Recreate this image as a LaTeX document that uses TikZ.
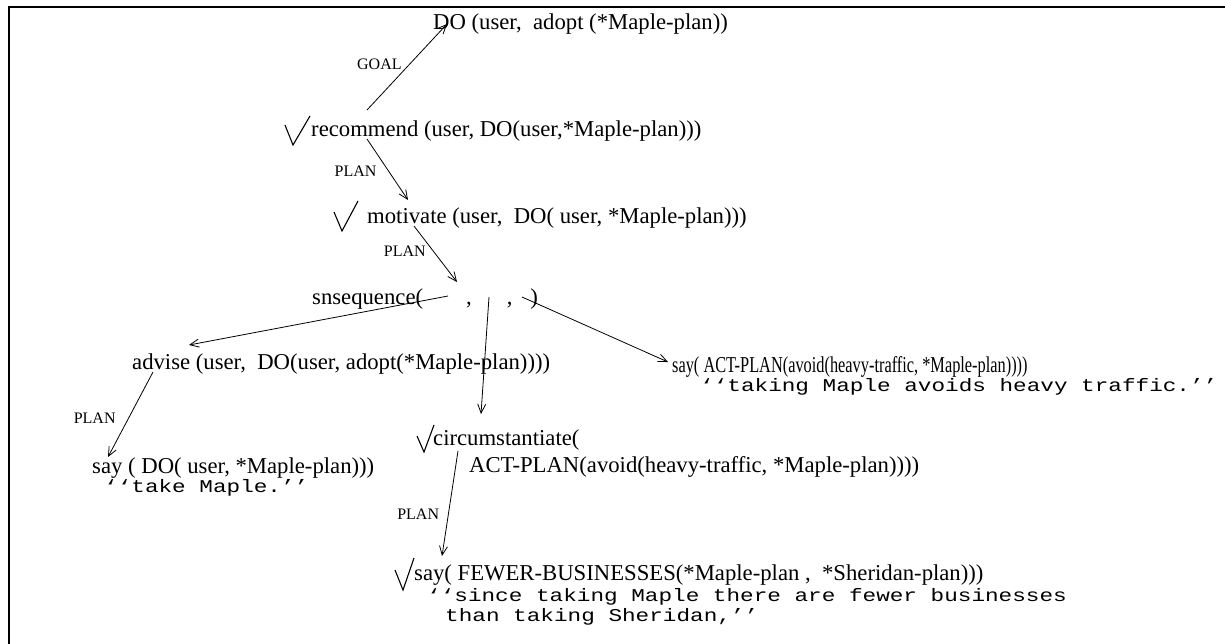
\documentclass[tikz,border=0pt]{standalone}
\usepackage{fontspec}
\setmainfont{Liberation Serif}
\setmonofont[FakeStretch=1.26]{Liberation Mono}
\newfontfamily\condserif[FakeStretch=0.72]{Liberation Serif}
\usetikzlibrary{arrows.meta}

\begin{document}
\begin{tikzpicture}[x=1pt, y=-1pt,
    term/.style = {anchor=base west, inner sep=0pt,
        font=\fontsize{22.7}{27}\selectfont},
    saying/.style = {term, font=\fontsize{18}{22}\selectfont\ttfamily},
    tag/.style = {anchor=base east, inner sep=0pt,
        font=\fontsize{16}{19}\selectfont},
    okmark/.style = {line width=1.1pt, line join=miter},
    link/.style = {line width=0.8pt, -{Straight Barb[length=9pt,width=8pt]}}]

\useasboundingbox (0,0) rectangle (1225,644);

% Frame
\draw[line width=1.5pt] (1225,7) -- (9,7) -- (9,644);

% Goal
\node[term] (do) at (433,30) {DO (user,~~adopt (*Maple-plan))};

% Recommend
\node[term] (rec) at (311,137) {recommend (user, DO(user,*Maple-plan)))};
\draw[okmark] ([shift={(-26,-12)}]rec.base west) -- ++(8,20) -- ++(17,-29);

% Motivate
\node[term] (mot) at (367,224) {motivate (user,~~DO( user, *Maple-plan)))};
\draw[okmark] ([shift={(-33,-12)}]mot.base west) -- ++(8,19) -- ++(16,-30);

% Sequence
\node[term] (seq) at (312,304)
    {snsequence(\hspace{43pt},\hspace{35pt},\hspace{18pt})};

% Advise
\node[term] (adv) at (132,369) {advise (user,~~DO(user, adopt(*Maple-plan))))};
\node[term] (say1) at (92,473) {say ( DO( user, *Maple-plan)))};
\node[saying] (take) at (104,492) {‘‘take Maple.’’};

% Circumstantiate
\node[term] (circ) at (433,445) {circumstantiate(};
\draw[okmark] ([shift={(-16,-9)}]circ.base west) -- ++(7,16) -- ++(10,-27);
\node[term] (act) at (469,472) {ACT-PLAN(avoid(heavy-traffic, *Maple-plan))))};
\node[term] (fewer) at (414,580)
    {say( FEWER-BUSINESSES(*Maple-plan ,~~*Sheridan-plan)))};
\draw[okmark] ([shift={(-19,-10)}]fewer.base west) -- ++(8,20) -- ++(11,-32);
\node[saying] (since) at (427,601) {‘‘since taking Maple there are fewer businesses};
\node[saying] (than) at (445,621) {than taking Sheridan,’’};

% Say act-plan
\node[term, font=\fontsize{22.7}{27}\condserif] (say2) at (672,372)
    {say( ACT-PLAN(avoid(heavy-traffic, *Maple-plan))))};
\node[saying] (avoid) at (700,391) {‘‘taking Maple avoids heavy traffic.’’};

% Links
\draw[link] ([shift={(56,-27)}]rec.base west)
    -- node[tag, pos=.475, xshift=-3pt] {GOAL} ([shift={(14,-6)}]do.base west);
\draw[link] ([shift={(56,2)}]rec.base west)
    -- node[tag, pos=.607, xshift=-15pt] {PLAN} ([shift={(41,-24)}]mot.base west);
\draw[link] ([shift={(47,2)}]mot.base west)
    -- node[tag, pos=.536, xshift=-11pt] {PLAN} ([shift={(145,-22)}]seq.base west);
\draw[link] ([shift={(136,-8)}]seq.base west) -- ([shift={(57,-24)}]adv.base west);
\draw[link] ([shift={(177,-7)}]seq.base west) -- ([shift={(48,-31)}]circ.base west);
\draw[link] ([shift={(210,-7)}]seq.base west) -- ([shift={(-4,-10)}]say2.base west);
\draw[link] ([shift={(21,3)}]adv.base west)
    -- node[tag, pos=.6, xshift=-10pt] {PLAN} ([shift={(16,-16)}]say1.base west);
\draw[link] ([shift={(25,6)}]circ.base west)
    -- node[tag, pos=.657, xshift=-8pt] {PLAN} ([shift={(28,-24)}]fewer.base west);

\end{tikzpicture}
\end{document}
